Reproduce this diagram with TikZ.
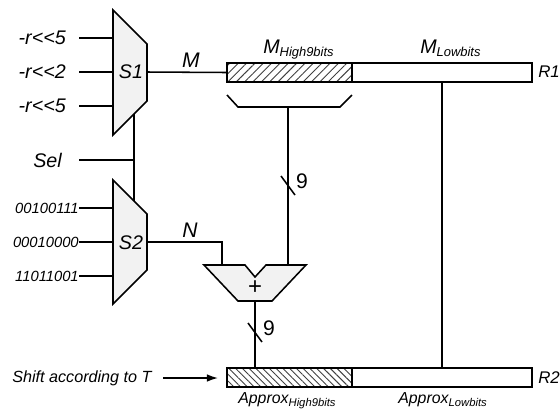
\documentclass[tikz,border=0pt]{standalone}
\usepackage{fontspec}
\setmainfont{Liberation Sans}
\usetikzlibrary{arrows.meta, patterns.meta}

\newcommand{\lowtxt}[2]{\raisebox{-2.2pt}{\fontsize{#1}{#1}\selectfont #2}}

\tikzset{
    wire/.style={draw, line width=1.1pt},
    muxbody/.style={draw, line width=1.1pt, fill=black!5, line join=miter},
    lbl/.style={inner sep=0pt, font=\fontsize{14}{14}\selectfont\itshape},
    lblbin/.style={inner sep=0pt, anchor=east, font=\fontsize{10.5}{10.5}\selectfont\itshape},
    num/.style={inner sep=0pt, font=\fontsize{15}{15}\selectfont},
    regcell/.style={draw, line width=1.4pt, minimum height=13.1pt, inner sep=0pt, fill=white},
    hatchup/.style={pattern={Lines[angle=45,distance=4.2pt,line width=0.65pt]}, pattern color=black!75},
    hatchdown/.style={pattern={Lines[angle=-45,distance=3.4pt,line width=0.65pt]}, pattern color=black!75}
}

\begin{document}
\begin{tikzpicture}[x=0.025cm, y=-0.025cm]
            \useasboundingbox (0,0) rectangle (560,410);

            % registers
            \node[regcell, hatchup, minimum width=88.6pt] (mhigh) at (289.5,72.5) {};
            \node[regcell, minimum width=127.6pt] (mlow) at (442,72.5) {};
            \node[regcell, hatchdown, minimum width=88.6pt] (ahigh) at (289.5,377.5) {};
            \node[regcell, minimum width=127.6pt] (alow) at (442,377.5) {};

            % mux outlines
            \draw[muxbody] (113,10) -- (147,44) -- (147,101) -- (113,135) -- cycle;
            \draw[muxbody] (113,180) -- (147,214) -- (147,270) -- (113,304) -- cycle;
            \node[lbl] (s1) at (131,72) {S1};
            \node[lbl] (s2) at (131,243) {S2};

            % adder
            \draw[muxbody] (204,265) -- (245,265) -- (255,277) -- (266,265) -- (306,265)
                -- (272,301) -- (238,301) -- cycle;
            \node[num, font=\fontsize{17}{17}\selectfont] (plus) at (255,288) {+};

            % free ends
            \coordinate (ra) at (79,38);
            \coordinate (rb) at (79,72);
            \coordinate (rc) at (79,106);
            \coordinate (sa) at (113,38);
            \coordinate (sb) at (113,72);
            \coordinate (sc) at (113,106);
            \coordinate (ba) at (79,208);
            \coordinate (bb) at (79,242);
            \coordinate (bc) at (79,276);
            \coordinate (ta) at (113,208);
            \coordinate (tb) at (113,242);
            \coordinate (tc) at (113,276);
            \coordinate (s1out) at (147,72);
            \coordinate (s2out) at (147,242);
            \coordinate (s1bot) at (134,114);
            \coordinate (s2top) at (134,201);
            \coordinate (selin) at (79,160);
            \coordinate (seljoin) at (134,160);
            \coordinate (addl) at (222,265);
            \coordinate (addlup) at (222,242);
            \coordinate (addr) at (288,265);
            \coordinate (addout) at (255,301);
            \coordinate (brl) at (227,95);
            \coordinate (brla) at (238,107);
            \coordinate (brm) at (288,107);
            \coordinate (brra) at (340,107);
            \coordinate (brr) at (352,95);
            \coordinate (shiftin) at (163,378);
            \coordinate (shiftto) at (218,378);
            \coordinate (ticka) at (281,176);
            \coordinate (tickb) at (295,195);
            \coordinate (tickc) at (248,323);
            \coordinate (tickd) at (262,342);

            \draw[wire] (ra) -- (sa);
            \draw[wire] (rb) -- (sb);
            \draw[wire] (rc) -- (sc);
            \draw[wire] (ba) -- (ta);
            \draw[wire] (bb) -- (tb);
            \draw[wire] (bc) -- (tc);
            \draw[wire] (s1out) -- (mhigh.west);
            \draw[wire] (s2out) -- (addlup) -- (addl);
            \draw[wire] (s1bot) -- (s2top);
            \draw[wire] (selin) -- (seljoin);
            \draw[wire] (brl) -- (brla) -- (brra) -- (brr);
            \draw[wire] (brm) -- (addr);
            \draw[wire] (addout) -- (ahigh.north -| addout);
            \draw[wire] (mlow.south) -- (alow.north);
            \draw[wire] (ticka) -- (tickb);
            \draw[wire] (tickc) -- (tickd);
            \draw[wire, -{Latex[length=8pt,width=5.5pt]}] (shiftin) -- (shiftto);

            % texts
            \node[lbl, anchor=east] (ltra) at (66,38) {-r<{}<5};
            \node[lbl, anchor=east] (ltrb) at (66,72) {-r<{}<2};
            \node[lbl, anchor=east] (ltrc) at (66,106) {-r<{}<5};
            \node[lbl, anchor=east] (ltsel) at (62,160) {Sel};
            \node[lblbin] (ltba) at (79,208) {00100111};
            \node[lblbin] (ltbb) at (79,242) {00010000};
            \node[lblbin] (ltbc) at (79,276) {11011001};
            \node[lbl, font=\fontsize{15}{15}\selectfont\itshape] (ltm) at (191,60) {M};
            \node[lbl, font=\fontsize{15}{15}\selectfont\itshape] (ltn) at (190,230) {N};
            \node[num] (nine) at (302,181) {9};
            \node[num] (ninb) at (269,328) {9};
            \node[lbl, anchor=west, font=\fontsize{11.5}{11.5}\selectfont\itshape] (ltshift) at (12,378) {Shift according to T};
            \node[lbl, anchor=base west] (ltmh) at (263,53) {M\lowtxt{9.2}{High9bits}};
            \node[lbl, anchor=base west] (ltml) at (420,53) {M\lowtxt{9.2}{Lowbits}};
            \node[lbl, anchor=base west, font=\fontsize{11.3}{11.3}\selectfont\itshape] (ltah) at (238,403) {Approx\lowtxt{8}{High9bits}};
            \node[lbl, anchor=base west, font=\fontsize{11.3}{11.3}\selectfont\itshape] (ltal) at (398,403) {Approx\lowtxt{8}{Lowbits}};
            \node[lbl, anchor=west, font=\fontsize{12}{12}\selectfont\itshape] (ltra1) at (538,72) {R1};
            \node[lbl, anchor=west, font=\fontsize{12}{12}\selectfont\itshape] (ltra2) at (538,378) {R2};
        \end{tikzpicture}
\end{document}
